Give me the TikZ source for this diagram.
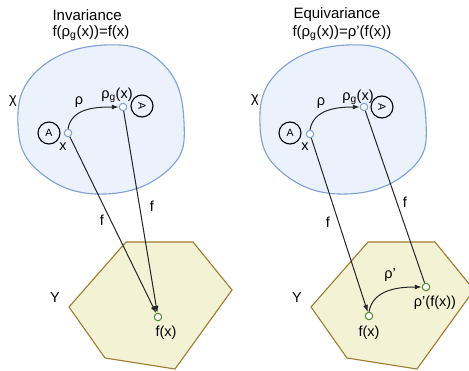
\documentclass[tikz,border=0pt]{standalone}
\usepackage{fontspec}
\setmainfont{Liberation Sans}
\usepackage{xcolor}
\usetikzlibrary{arrows.meta,positioning}
\definecolor{blobline}{HTML}{7F9FD5}
\definecolor{blobfill}{HTML}{EBF2FC}
\definecolor{hexline}{HTML}{9C7C2E}
\definecolor{hexfill}{HTML}{F4F2D4}
\definecolor{ptgreen}{HTML}{4E8B2E}

\begin{document}
\begin{tikzpicture}[x=1pt,y=-1pt,>={Latex[length=7pt,width=5pt]},font=\fontsize{14.5}{16}\selectfont,
  pt/.style={circle,draw=#1,fill=white,line width=1pt,minimum size=7.5pt,inner sep=0pt},
  letter/.style={circle,draw,line width=1.1pt,minimum size=22pt,inner sep=0pt,font=\fontsize{10.5}{11}\selectfont},
  title/.style={anchor=west,font=\fontsize{15}{18}\selectfont},
  map/.style={->,line width=1pt,black!85}]
  \useasboundingbox (0,0) rectangle (469,370);
  % left panel: invariance
  \draw[blobline,fill=blobfill,line width=1.1pt] plot[smooth cycle,tension=0.75] coordinates
    {(18,125) (38,70) (105,45) (163,64) (184,122) (168,170) (105,194) (42,174)};
  \draw[hexline,fill=hexfill,line width=1.1pt] (126,242) -- (193,242) -- (232,290) -- (175,369) -- (105,358) -- (69,307) -- cycle;
  \node[title] (ltitle) at (49,15) {Invariance};
  \node[title] (lformula) at (49,33) {f(ρ\textsubscript{g}(x))=f(x)};
  \node (lchi) at (13,101) {χ};
  \node (lY) at (55,298) {Y};
  \node[letter] (lA) at (49,133) {A};
  \node[pt=blobline] (lx) at (68,133) {};
  \node (lxlab) at (63,147) {x};
  \node[pt=blobline] (lg) at (123,107) {};
  \node (lglab) at (117,95) {ρ\textsubscript{g}(x)};
  \node[letter,rotate=-90] (lArot) at (142,106) {A};
  \node[pt=ptgreen] (lfx) at (158,317) {};
  \node (lfxlab) at (166,333) {f(x)};
  \draw[map] (lx.north) to[out=80,in=180] (lg.west);
  \node (lrho) at (79,102) {ρ};
  \draw[map] (lx) -- (lfx);
  \draw[map] (lg) -- (lfx);
  \node (lf1) at (102,220) {f};
  \node (lf2) at (152,206) {f};
  % right panel: equivariance
  \begin{scope}[xshift=242pt]
    \draw[blobline,fill=blobfill,line width=1.1pt] plot[smooth cycle,tension=0.75] coordinates
      {(18,125) (38,70) (105,45) (163,64) (184,122) (168,170) (105,194) (42,174)};
    \draw[hexline,fill=hexfill,line width=1.1pt] (126,242) -- (193,242) -- (232,290) -- (175,369) -- (105,358) -- (69,307) -- cycle;
    \node[title] (rtitle) at (48,15) {Equivariance};
    \node[title] (rformula) at (47,33) {f(ρ\textsubscript{g}(x))=ρ'(f(x))};
    \node (rchi) at (13,100) {χ};
    \node (rY) at (55,298) {Y};
    \node[letter] (rA) at (48,133) {A};
    \node[pt=blobline] (rx) at (68,134) {};
    \node (rxlab) at (63,147) {x};
    \node[pt=blobline] (rg) at (122,107) {};
    \node (rglab) at (116,97) {ρ\textsubscript{g}(x)};
    \node[letter,rotate=-90] (rArot) at (140,107) {A};
    \node[pt=ptgreen] (rfx) at (127,316) {};
    \node (rfxlab) at (127,333) {f(x)};
    \node[pt=ptgreen] (rpp) at (184,287) {};
    \node (rpplab) at (193,303) {ρ'(f(x))};
    \draw[map] (rx.north) to[out=80,in=180] (rg.west);
    \node (rrho) at (79,103) {ρ};
    \draw[map] (rfx.north) to[out=80,in=180] (rpp.west);
    \node (rrhop) at (148,275) {ρ'};
    \draw[map] (rx) -- (rfx);
    \draw[line width=1pt,black!85] (rg) -- (rpp);
    \node (rf1) at (86,222) {f};
    \node (rf2) at (163,202) {f};
  \end{scope}
\end{tikzpicture}
\end{document}
